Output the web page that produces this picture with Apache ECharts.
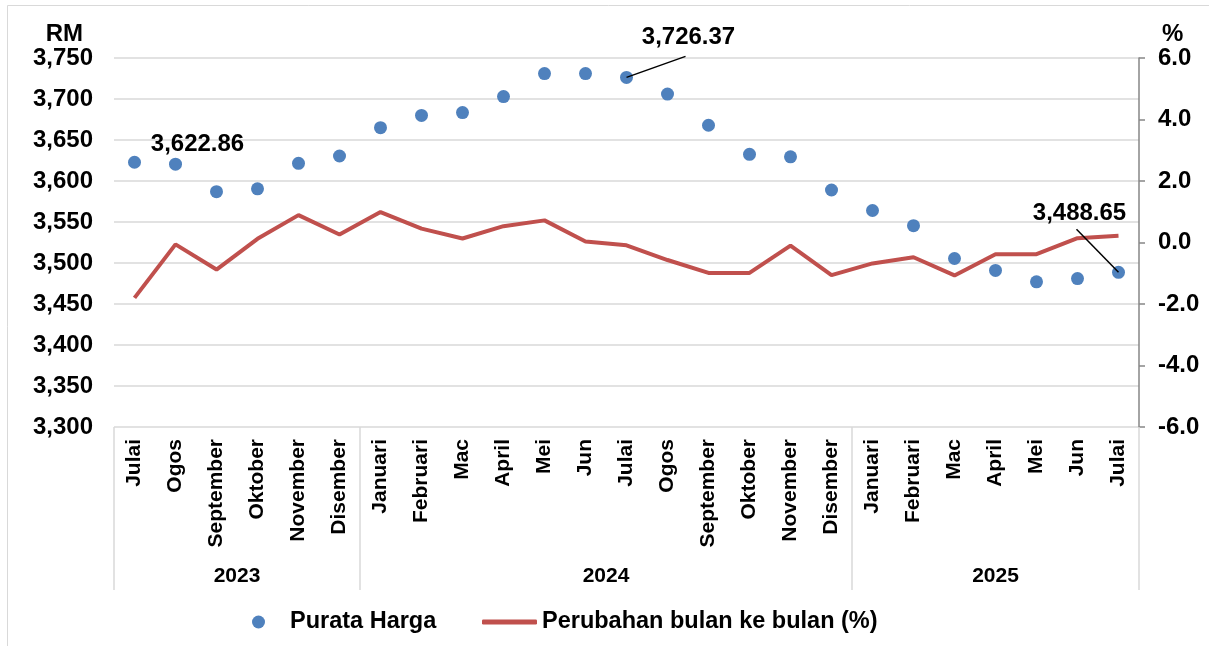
<!DOCTYPE html>
<html>
<head>
<meta charset="utf-8">
<script src="https://cdn.jsdelivr.net/npm/echarts@6/dist/echarts.min.js"></script>
<style>
html,body{margin:0;padding:0;background:#fff;}
#chart{width:1209px;height:646px;}
</style>
</head>
<body>
<div id="chart"></div>
<script>
// ---- data ----
const months = ['Julai','Ogos','September','Oktober','November','Disember',
  'Januari','Februari','Mac','April','Mei','Jun','Julai','Ogos','September','Oktober','November','Disember',
  'Januari','Februari','Mac','April','Mei','Jun','Julai'];
const years = ['2023','2024','2025'];
const monthsPerYear = [6, 12, 7];
const purataHarga = [3622.86, 3620.5, 3587.0, 3590.5, 3621.5, 3630.5,
  3665.0, 3680.0, 3683.5, 3703.0, 3731.0, 3731.0, 3726.37, 3706.0, 3668.0, 3632.5, 3629.5, 3589.0,
  3564.0, 3545.5, 3505.5, 3491.0, 3477.0, 3481.0, 3488.65];
const perubahan = [-1.80, -0.06, -0.88, 0.12, 0.89, 0.26,
  0.99, 0.45, 0.13, 0.53, 0.72, 0.03, -0.09, -0.57, -0.99, -0.99, -0.10, -1.06,
  -0.68, -0.48, -1.07, -0.38, -0.38, 0.14, 0.22];
const leftTicks = {min: 3300, max: 3750, interval: 50};
const rightTicks = {min: -6, max: 6, interval: 2};
const labeledIdx = [0, 12, 24];

// ---- styles ----
const FONT = '"Liberation Sans", Arial, sans-serif';
const annotStyle = {
  0:  {offset: [63, -18]},
  12: {offset: [62, -40], line: [59, -21]},
  24: {offset: [-39, -59], line: [-42, -43]}
};

// year group boundaries & centres
const bounds = [0];
monthsPerYear.forEach(n => bounds.push(bounds[bounds.length - 1] + n));
const centres = monthsPerYear.map((n, i) => bounds[i] + n / 2);

const fmt = v => v.toLocaleString('en-US', {minimumFractionDigits: 2, maximumFractionDigits: 2});

const scatterData = purataHarga.map((v, i) => {
  if (labeledIdx.indexOf(i) < 0) return v;
  return {
    value: v,
    label: {show: true, position: 'inside', formatter: fmt(v),
      fontFamily: FONT, fontWeight: 'bold', fontSize: 24, color: '#000'}
  };
});

const borderGraphic = {id: 'border', type: 'rect', silent: true, z: -10,
  shape: {x: 7.5, y: 5.5, width: 1300, height: 800},
  style: {fill: 'none', stroke: '#d9d9d9', lineWidth: 1}};

const chart = echarts.init(document.getElementById('chart'), null, {renderer: 'canvas'});
chart.setOption({
  animation: false,
  backgroundColor: '#fff',
  textStyle: {fontFamily: FONT},
  graphic: [borderGraphic],
  grid: {left: 114, right: 70, top: 58, bottom: 219, containLabel: false},
  legend: [
    {data: ['Purata Harga'], left: 252, top: 610, padding: 0, icon: 'circle', itemWidth: 13, itemHeight: 13,
      itemStyle: {opacity: 1},
      textStyle: {fontFamily: FONT, fontWeight: 'bold', fontSize: 23.5, color: '#000', padding: [0, 0, 0, 20]},
      selectedMode: false},
    {data: ['Perubahan bulan ke bulan (%)'], left: 482, top: 610, padding: 0, icon: 'roundRect', itemWidth: 55, itemHeight: 5,
      textStyle: {fontFamily: FONT, fontWeight: 'bold', fontSize: 23.5, color: '#000'},
      selectedMode: false}
  ],
  xAxis: [
    {type: 'category', data: months, boundaryGap: true, position: 'bottom',
      axisLine: {show: false}, axisTick: {show: false}, splitLine: {show: false},
      axisLabel: {interval: 0, rotate: 90, margin: 12, fontFamily: FONT, fontWeight: 'bold', fontSize: 21, color: '#000'}},
    {type: 'value', min: 0, max: bounds[bounds.length - 1], position: 'bottom', offset: 0,
      axisLine: {show: false}, splitLine: {show: false},
      axisTick: {show: true, inside: false, length: 163, customValues: bounds, lineStyle: {color: '#d9d9d9', width: 1.5}},
      axisLabel: {show: true, margin: 139, customValues: centres,
        formatter: v => years[centres.indexOf(v)] || '',
        fontFamily: FONT, fontWeight: 'bold', fontSize: 21, color: '#000'}}
  ],
  yAxis: [
    {type: 'value', min: leftTicks.min, max: leftTicks.max, interval: leftTicks.interval, position: 'left',
      name: 'RM', nameLocation: 'end', nameGap: 12,
      nameTextStyle: {fontFamily: FONT, fontWeight: 'bold', fontSize: 24, color: '#000', align: 'right', padding: [0, 31, 0, 0]},
      axisLine: {show: false}, axisTick: {show: false},
      splitLine: {show: true, lineStyle: {color: '#d9d9d9', width: 1.5}},
      axisLabel: {margin: 21, formatter: v => v.toLocaleString('en-US'), fontFamily: FONT, fontWeight: 'bold', fontSize: 24, color: '#000'}},
    {type: 'value', min: rightTicks.min, max: rightTicks.max, interval: rightTicks.interval, position: 'right',
      name: '%', nameLocation: 'end', nameGap: 10,
      nameTextStyle: {fontFamily: FONT, fontWeight: 'bold', fontSize: 24, color: '#000', align: 'left', padding: [0, 0, 0, 23]},
      axisLine: {show: true, lineStyle: {color: '#868686', width: 1.5}},
      axisTick: {show: true, inside: false, length: 6, lineStyle: {color: '#868686', width: 1.5}},
      splitLine: {show: false},
      axisLabel: {margin: 19, formatter: v => v.toFixed(1), fontFamily: FONT, fontWeight: 'bold', fontSize: 24, color: '#000'}}
  ],
  series: [
    {name: 'Perubahan bulan ke bulan (%)', type: 'line', xAxisIndex: 0, yAxisIndex: 1, data: perubahan,
      showSymbol: false, symbol: 'none', color: '#c0504d',
      lineStyle: {color: '#c0504d', width: 4}, z: 2, silent: true},
    {name: 'Purata Harga', type: 'scatter', xAxisIndex: 0, yAxisIndex: 0, data: scatterData,
      symbol: 'circle', symbolSize: 13, itemStyle: {color: '#4f81bd', opacity: 1}, z: 3, silent: true,
      labelLayout: function (params) {
        const a = annotStyle[params.dataIndex];
        if (!a) return {};
        return {dx: a.offset[0], dy: a.offset[1]};
      }}
  ]
});

// leader lines anchored on the library's own pixel position of each labelled point
const leaders = labeledIdx.filter(i => annotStyle[i].line).map(i => {
  const p = chart.convertToPixel({seriesIndex: 1}, [i, purataHarga[i]]);
  const d = annotStyle[i].line;
  return {id: 'leader' + i, type: 'line', silent: true, z: 100,
    shape: {x1: p[0], y1: p[1], x2: p[0] + d[0], y2: p[1] + d[1]},
    style: {stroke: '#000', lineWidth: 1.5}};
});
chart.setOption({graphic: [borderGraphic].concat(leaders)});
</script>
</body>
</html>
